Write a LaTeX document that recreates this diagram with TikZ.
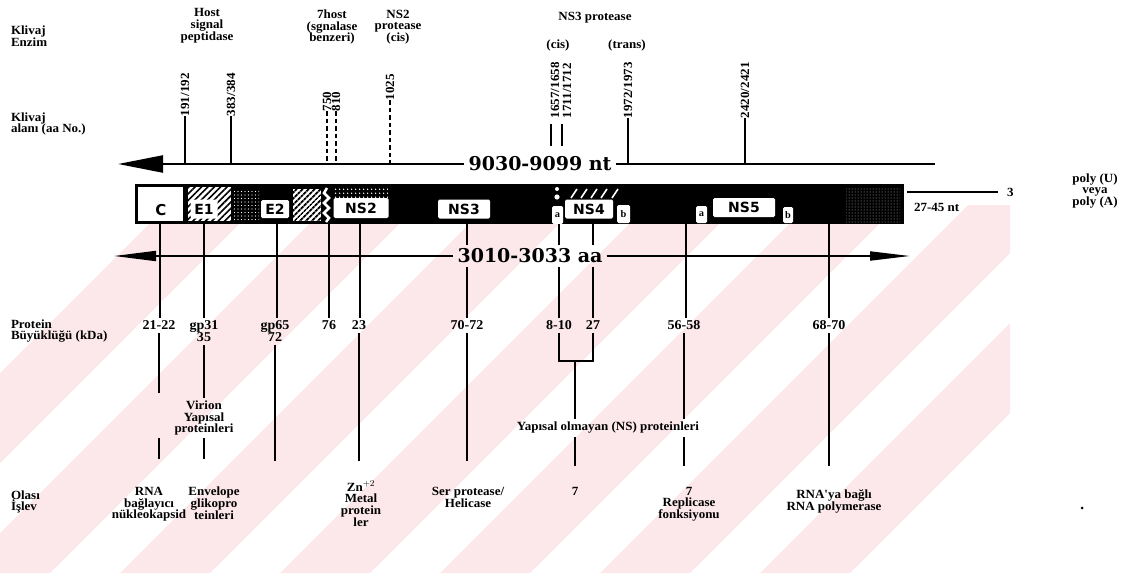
\documentclass[tikz,border=0pt]{standalone}
\usepackage{fontspec}
\usetikzlibrary{arrows.meta,patterns.meta}
\newfontfamily\labf{Liberation Serif Bold}[FakeStretch=1.04]
\newfontfamily\numf{DejaVu Serif}
\newfontfamily\boxf{DejaVu Sans}
\definecolor{wmpink}{RGB}{252,232,235}
\begin{document}
\begin{tikzpicture}[x=1pt,y=-1pt,
  lbl/.style={font=\labf\fontsize{12.5}{11.8}\selectfont, align=center, inner sep=0pt, outer sep=0pt},
  rot/.style={lbl, rotate=90, anchor=west},
  pnum/.style={font=\labf\fontsize{13.5}{12}\selectfont, align=center, inner sep=0pt, outer sep=3pt, anchor=north},
  fn/.style={lbl, anchor=north},
  bignum/.style={font=\numf\bfseries\fontsize{19}{19}\selectfont, inner sep=4pt},
  gbox/.style={fill=white, rounded corners=1.5pt, inner sep=0pt, font=\boxf\bfseries\fontsize{14}{14}\selectfont},
  sbox/.style={fill=white, rounded corners=1.5pt, inner sep=0pt, font=\labf\fontsize{10}{10}\selectfont},
  vline/.style={line width=1.8pt},
  ctick/.style={line width=2pt},
  dctick/.style={line width=2.6pt, dash pattern=on 4.5pt off 3pt},
  wmband/.style={fill=wmpink, draw=none},
]
\useasboundingbox (0,0) rectangle (1124,573);

% ---------- faint watermark bands ----------
\begin{scope}
\clip (0,205) rectangle (1010,573);
\foreach \a in {-200,-40,120,280,440,600,760} {
  \fill[wmband] (\a,573) -- (\a+90,573) -- (\a+458,205) -- (\a+368,205) -- cycle;
}
\end{scope}

% ---------- left row labels ----------
\node[lbl,anchor=west,align=left] (kenz) at (11,36) {Klivaj\\Enzim};
\node[lbl,anchor=west,align=left] (kalan) at (11,124) {Klivaj\\alanı (aa No.)};
\node[lbl,anchor=west,align=left] (kprot) at (11,331) {Protein\\Büyüklüğü (kDa)};
\node[lbl,anchor=west,align=left] (kisl) at (11,502) {Olası\\İşlev};

% ---------- enzyme headers ----------
\node[lbl] (hsp) at (207,26) {Host\\signal\\peptidase};
\node[lbl] (h7) at (332,27) {7host\\(sgnalase\\benzeri)};
\node[lbl] (hns2) at (398,27) {NS2\\protease\\(cis)};
\node[lbl] (hns3) at (595,18) {NS3 protease};
\node[lbl] (hcis) at (558,45) {(cis)};
\node[lbl] (htrans) at (627,45) {(trans)};

% ---------- top line ----------
\node[bignum] (nt) at (540,164) {9030-9099 nt};
\coordinate (topL) at (118,164);
\coordinate (topR) at (935,164);
\draw[line width=2.3pt, -{Triangle[length=45pt,width=17pt]}] (nt.west) -- (topL);
\draw[line width=2.3pt] (nt.east) -- (topR);

% ---------- cleavage sites ----------
\node[rot] (c191) at (185,116) {191/192};
\node[rot] (c383) at (231,116) {383/384};
\node[rot] (c750) at (327,111) {750};
\node[rot] (c810) at (336,111) {810};
\node[rot] (c1025) at (390,100) {1025};
\node[rot] (c1657) at (555,118) {1657/1658};
\node[rot] (c1711) at (567,118) {1711/1712};
\node[rot] (c1972) at (628,118) {1972/1973};
\node[rot] (c2420) at (745,118) {2420/2421};
\coordinate (t191) at (185,164);
\coordinate (t383) at (231,164);
\coordinate (t750) at (327,164);
\coordinate (t810) at (336,164);
\coordinate (t1025) at (390,164);
\coordinate (t1972) at (628,164);
\coordinate (t2420) at (745,164);
\draw[ctick] (c191.west) -- (t191);
\draw[ctick] (c383.west) -- (t383);
\draw[dctick] (c750.west) -- (t750);
\draw[dctick] (c810.west) -- (t810);
\draw[dctick] (c1025.west) -- (t1025);
\draw[ctick] (c1972.west) -- (t1972);
\draw[ctick] (c2420.west) -- (t2420);
\coordinate (s1a) at (551,124); \coordinate (s1b) at (551,146);
\coordinate (s2a) at (562,124); \coordinate (s2b) at (562,146);
\draw[ctick] (s1a) -- (s1b);
\draw[ctick] (s2a) -- (s2b);

% ---------- genome bar ----------
\fill[black] (135,184) rectangle (904,224);
\fill[white] (138,187) rectangle (183,221);
\node[lbl, font=\boxf\bfseries\fontsize{15}{15}\selectfont] (gC) at (161,210) {C};
\fill[white] (188,187) rectangle (231,221);
\fill[pattern={Lines[angle=45,distance=4.5pt,line width=1.6pt]}] (188,187) rectangle (231,221);
\node[gbox, minimum width=27, minimum height=19] (gE1) at (204,209) {E1};
\fill[pattern={Dots[distance=3.5pt,radius=0.7pt]}, pattern color=white] (234,189) rectangle (259,221);
\node[gbox, minimum width=28, minimum height=18] (gE2) at (275,209) {E2};
\fill[white] (293,189) rectangle (321,221);
\fill[pattern={Lines[angle=45,distance=4pt,line width=2pt]}] (293,189) rectangle (321,221);
\draw[white, line width=2.5pt] (327,188) -- (324,193) -- (329,198) -- (324,203) -- (329,208) -- (324,213) -- (329,218) -- (326,222);
\fill[pattern={Dots[distance=4pt,radius=1pt]}, pattern color=white] (334,187) rectangle (388,197);
\node[gbox, minimum width=55, minimum height=20] (gNS2) at (361,208) {NS2};
\node[gbox, minimum width=52, minimum height=19] (gNS3) at (464,209) {NS3};
\fill[white] (557,189) circle (2);
\fill[white] (557,197) circle (2.6);
\node[sbox, minimum width=11, minimum height=18] (ga1) at (557.5,215) {a};
\node[gbox, minimum width=48, minimum height=19] (gNS4) at (589,209) {NS4};
\foreach \sx in {571,581,591,601,612} \draw[white, line width=1.6pt] (\sx,198) -- (\sx+6,189);
\node[sbox, minimum width=13, minimum height=18] (gb1) at (623.5,214) {b};
\node[sbox, minimum width=11, minimum height=17] (ga2) at (701.5,214.5) {a};
\node[gbox, minimum width=62, minimum height=19] (gNS5) at (744,207.5) {NS5};
\node[sbox, minimum width=10, minimum height=16] (gb2) at (788,215) {b};
\fill[pattern={Dots[distance=3pt,radius=0.5pt]}, pattern color=white!75!black] (846,188) rectangle (900,222);

% ---------- 3' end ----------
\coordinate (barR) at (907,192);
\coordinate (tailR) at (998,192);
\draw[line width=1.6pt] (barR) -- (tailR);
\node[lbl,anchor=west] (three) at (1007,192) {3};
\node[lbl,anchor=west] (n2745) at (914,207) {27-45 nt};
\node[lbl] (poly) at (1095,191) {poly (U)\\veya\\poly (A)};

% ---------- bottom arrow ----------
\node[bignum] (aa) at (530,256) {3010-3033 aa};
\coordinate (botL) at (114,256);
\coordinate (botR) at (910,256);
\draw[line width=1.8pt, -{Triangle[length=42pt,width=10pt]}] (aa.west) -- (botL);
\draw[line width=1.8pt, -{Triangle[length=40pt,width=9pt]}] (aa.east) -- (botR);

% ---------- protein sizes ----------
\node[pnum] (p1) at (159,318) {21-22};
\node[pnum] (p2) at (204,318) {gp31\\35};
\node[pnum] (p3) at (275,318) {gp65\\72};
\node[pnum] (p4) at (329,318) {76};
\node[pnum] (p5) at (359,318) {23};
\node[pnum] (p6) at (467,318) {70-72};
\node[pnum] (p7) at (559,318) {8-10};
\node[pnum] (p8) at (593,318) {27};
\node[pnum] (p9) at (684,318) {56-58};
\node[pnum] (p10) at (829,318) {68-70};

\coordinate (b1) at (160,224);
\coordinate (b2) at (204,224);
\coordinate (b3) at (277,224);
\coordinate (b4) at (329,224);
\coordinate (b5) at (360,224);
\coordinate (b6) at (467,224);
\coordinate (b7) at (559,224);
\coordinate (b8) at (593,224);
\coordinate (b9) at (686,224);
\coordinate (b10) at (829,224);
\draw[vline] (b1) -- (b1 |- p1.north);
\draw[vline] (b2) -- (p2.north);
\draw[vline] (b3) -- (b3 |- p3.north);
\draw[vline] (b4) -- (p4.north);
\draw[vline] (b5) -- (b5 |- p5.north);
\draw[vline] (b6) -- (b6 |- aa.north);
\draw[vline] (b6 |- aa.south) -- (p6.north);
\draw[vline] (b7) -- (b7 |- aa.north);
\draw[vline] (b7 |- aa.south) -- (p7.north);
\draw[vline] (b8) -- (b8 |- aa.north);
\draw[vline] (b8 |- aa.south) -- (p8.north);
\draw[vline] (b9) -- (b9 |- p9.north);
\draw[vline] (b10) -- (p10.north);

% ---------- middle labels ----------
\node[lbl] (vir) at (204,418) {Virion\\Yapısal\\proteinleri};
\node[lbl] (nsp) at (608,428) {Yapısal olmayan (NS) proteinleri};
\coordinate (e1) at (159,393);
\draw[vline] (p1.south) -- (e1);
\draw[vline] (p2.south) -- ([yshift=3pt]vir.north);
\coordinate (brm) at (575,361);
\draw[vline] (p7.south) |- (brm) -| (p8.south);
\draw[vline] (brm) -- ([yshift=3pt]brm |- nsp.north);

% ---------- function labels ----------
\node[fn] (f1) at (149,487) {RNA\\bağlayıcı\\nükleokapsid};
\node[fn] (f2) at (214,487) {Envelope\\glikopro\\teinleri};
\node[fn] (f5) at (361,481) {Zn$^{+2}$\\Metal\\protein\\ler};
\node[fn] (f6) at (468,487) {Ser protease/\\Helicase};
\node[fn] (f7) at (575,487) {7};
\node[fn] (f9) at (689,487) {7\\Replicase\\fonksiyonu};
\node[fn] (f10) at (834,490) {RNA'ya bağlı\\RNA polymerase};
\fill (1082,508) circle (1.5);

\coordinate (k1a) at (159,438); \coordinate (k1b) at (159,459);
\coordinate (k2a) at (204,438); \coordinate (k2b) at (204,459);
\draw[vline] (k1a) -- (k1b);
\draw[vline] (k2a) -- (k2b);
\coordinate (e3) at (275,461);
\coordinate (e5) at (359,461);
\coordinate (e6) at (467,461);
\coordinate (e7) at (575,466);
\coordinate (e9) at (684,466);
\coordinate (e10) at (829,466);
\draw[vline] (p3.south) -- (e3);
\draw[vline] (p5.south) -- (e5);
\draw[vline] (p6.south) -- (e6);
\draw[vline] ([yshift=-3pt]brm |- nsp.south) -- (e7);
\draw[vline] (p9.south) -- ([yshift=3pt]p9.south |- nsp.north);
\draw[vline] ([yshift=-3pt]p9.south |- nsp.south) -- (e9);
\draw[vline] (p10.south) -- (e10);
\end{tikzpicture}
\end{document}
